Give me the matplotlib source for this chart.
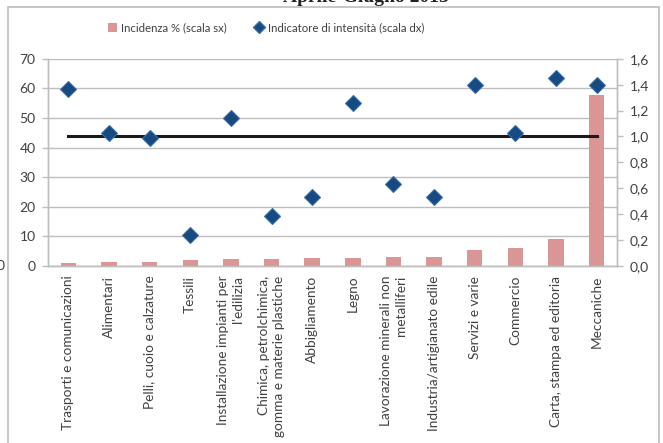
import matplotlib
matplotlib.use("Agg")
import matplotlib.pyplot as plt
from matplotlib.patches import Rectangle
from matplotlib.lines import Line2D
import numpy as np

plt.rcParams['font.family'] = ['Lato', 'DejaVu Sans']

categories = [
    "Trasporti e comunicazioni",
    "Alimentari",
    "Pelli, cuoio e calzature",
    "Tessili",
    "Installazione impianti per\nl'edilizia",
    "Chimica, petrolchimica,\ngomma e materie plastiche",
    "Abbigliamento",
    "Legno",
    "Lavorazione minerali non\nmetalliferi",
    "Industria/artigianato edile",
    "Servizi e varie",
    "Commercio",
    "Carta, stampa ed editoria",
    "Meccaniche",
]
incidenza = [0.9, 1.3, 1.3, 2.1, 2.5, 2.5, 2.8, 2.8, 3.1, 3.1, 5.4, 6.2, 9.1, 57.6]
intensita = [1.37, 1.03, 0.99, 0.24, 1.14, 0.39, 0.53, 1.26, 0.63, 0.53, 1.40, 1.03, 1.45, 1.40]
riferimento = 1.0

left_ticks = [0, 10, 20, 30, 40, 50, 60, 70]
right_ticks = [0.0, 0.2, 0.4, 0.6, 0.8, 1.0, 1.2, 1.4, 1.6]

bar_color = '#D99694'
marker_face = '#174A80'
marker_edge = '#3A6DAA'
grid_color = '#BEBEBE'
text_color = '#404040'

fig = plt.figure(figsize=(6.63, 4.43), dpi=100)
ax = fig.add_axes([0.0724, 0.3995, 0.8582, 0.4678])
ax2 = ax.twinx()

x = np.arange(len(categories))
ax.bar(x, incidenza, width=0.38, color=bar_color, zorder=2)
ax.set_ylim(0, 70)
ax.set_yticks(left_ticks)
ax.set_yticklabels([str(t) for t in left_ticks])
ax.set_xlim(-0.5, len(categories) - 0.5)
ax.grid(axis='y', color=grid_color, linewidth=1.0, zorder=0)
ax.set_axisbelow(True)

ax2.plot([x[0], x[-1]], [riferimento, riferimento], color='#1A1A1A', linewidth=2.2, zorder=3)
ax2.plot(x, intensita, linestyle='none', marker='D', markersize=8.5,
         markerfacecolor=marker_face, markeredgecolor=marker_edge,
         markeredgewidth=0.8, zorder=4)
ax2.set_ylim(0, 1.6)
ax2.set_yticks(right_ticks)
ax2.set_yticklabels([f"{t:.1f}".replace('.', ',') for t in right_ticks])

for a in (ax, ax2):
    for s in a.spines.values():
        s.set_color(grid_color)
        s.set_linewidth(1.0)
    a.spines['top'].set_visible(False)
    a.tick_params(axis='y', colors=grid_color, labelcolor=text_color,
                  labelsize=10, length=4, width=1.0, pad=5)

ax.set_xticks(x)
ax.set_xticklabels(categories, rotation=90, ha='center', va='top',
                   multialignment='right', fontsize=9.8, color=text_color,
                   linespacing=1.3)
ax.tick_params(axis='x', length=0, pad=7)

# legend row above the plot
handles = [
    Rectangle((0, 0), 1, 1, facecolor=bar_color, edgecolor='none'),
    Line2D([], [], linestyle='none', marker='D', markersize=6,
           markerfacecolor=marker_face, markeredgecolor=marker_edge),
]
fig.legend(handles, ["Incidenza % (scala sx)", "Indicatore di intensità (scala dx)"],
           loc='center', bbox_to_anchor=(266 / 663, 1 - 28 / 443), ncol=2, frameon=False,
           fontsize=8.2, handlelength=0.8, handleheight=0.9, handletextpad=0.4,
           columnspacing=2.4, labelcolor=text_color)

# chart frame
fig.add_artist(Rectangle((8 / 663, -0.05), (659 - 8) / 663, 1.05 - 7 / 443,
                         transform=fig.transFigure, fill=False,
                         edgecolor='#BDBDBD', linewidth=1.2))

# heading, partly outside the canvas
fig.text(366 / 663, 1 - 1.5 / 443, "Aprile-Giugno 2013", ha='center', va='baseline',
         fontsize=14, fontweight='bold', family='Liberation Serif', color='#222222')
fig.text(-3 / 663, 1 - 266 / 443, "0", ha='left', va='center', fontsize=10,
         color=text_color)

fig.savefig("out.png", dpi=100)
